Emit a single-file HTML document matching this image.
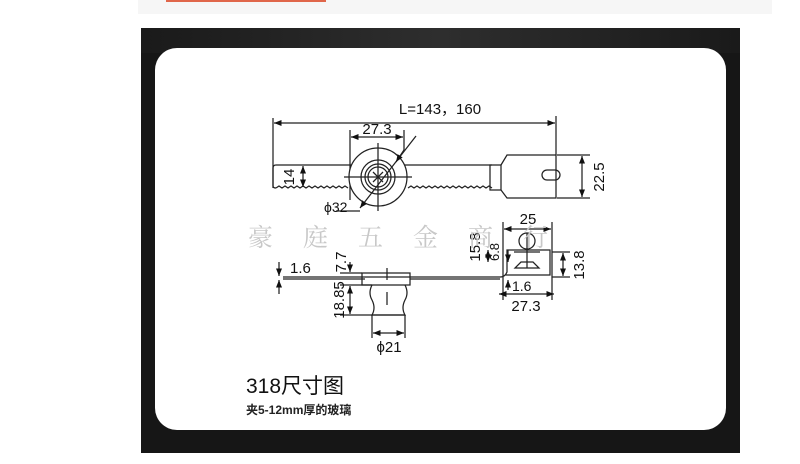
<!DOCTYPE html>
<html><head><meta charset="utf-8"><style>
html,body{margin:0;padding:0;background:#fff;width:800px;height:464px;overflow:hidden}
</style></head><body>
<svg width="800" height="464" viewBox="0 0 800 464" xmlns="http://www.w3.org/2000/svg" font-family="Liberation Sans, sans-serif">
<defs>
<marker id="a" viewBox="0 0 10 10" refX="10" refY="5" markerWidth="6" markerHeight="6" orient="auto-start-reverse"><path d="M0,1 L10,5 L0,9 z" fill="#111"/></marker>
<linearGradient id="g" x1="0" x2="1"><stop offset="0" stop-color="#1a1a1a"/><stop offset="0.5" stop-color="#2e2e2e"/><stop offset="1" stop-color="#1a1a1a"/></linearGradient>
</defs>
<rect x="138" y="0" width="634" height="14" fill="#f6f6f6"/>
<rect x="166" y="0" width="160" height="2" fill="#e0664a"/>
<rect x="141" y="28" width="599" height="425" fill="#161616"/>
<rect x="141" y="28" width="599" height="25" fill="url(#g)"/>
<rect x="155" y="48" width="571" height="382" rx="22" fill="#fff"/>
<g stroke="#222" stroke-width="1.25" fill="none">
<line x1="273" y1="118" x2="273" y2="188"/>
<line x1="556" y1="116" x2="556" y2="155"/>
<line x1="274" y1="123" x2="555" y2="123" marker-start="url(#a)" marker-end="url(#a)"/>
<line x1="350" y1="130" x2="350" y2="200"/>
<line x1="404" y1="130" x2="404" y2="150"/>
<line x1="351" y1="137" x2="403" y2="137" marker-start="url(#a)" marker-end="url(#a)"/>
<path d="M276,165 L492,165 M276,165 Q273,165 273,168 L273,186 Q273,188 276,188"/>
<path d="M276,188 l3,-2 l3,2 l3,-2 l3,2 l3,-2 l3,2 l3,-2 l3,2 l3,-2 l3,2 l3,-2 l3,2 l3,-2 l3,2 l3,-2 l3,2 l3,-2 l3,2 l3,-2 l3,2 l3,-2 l3,2 l3,-2 l3,2" />
<path d="M408,188 l3,-2 l3,2 l3,-2 l3,2 l3,-2 l3,2 l3,-2 l3,2 l3,-2 l3,2 l3,-2 l3,2 l3,-2 l3,2 l3,-2 l3,2 l3,-2 l3,2 l3,-2 l3,2 l3,-2 l3,2 l3,-2 l3,2 l3,-2 l3,2 l3,-2 l3,2"/>
<rect x="490" y="165" width="11" height="25"/>
<path d="M501,165 L507,155 L556,155 L556,198 L507,198 L501,190"/>
<rect x="542" y="170" width="18" height="10" rx="5"/>
<circle cx="378" cy="177" r="29" fill="#fff"/>
<circle cx="378" cy="177" r="17"/>
<circle cx="378" cy="177" r="13"/>
<circle cx="378" cy="177" r="10"/>
<line x1="344" y1="177" x2="412" y2="177"/>
<line x1="378" y1="143" x2="378" y2="211"/>
<line x1="373" y1="172" x2="383" y2="182"/><line x1="383" y1="172" x2="373" y2="182"/>
<line x1="360" y1="208" x2="416" y2="136" marker-start="url(#a)"/>
<line x1="404" y1="150" x2="396" y2="162" marker-end="url(#a)"/>
<line x1="336" y1="211" x2="360" y2="211"/>
<line x1="303" y1="166" x2="303" y2="187" marker-start="url(#a)" marker-end="url(#a)"/>
<line x1="557" y1="155" x2="590" y2="155"/><line x1="557" y1="198" x2="590" y2="198"/>
<line x1="582" y1="156" x2="582" y2="197" marker-start="url(#a)" marker-end="url(#a)"/>

<line x1="283" y1="277" x2="500" y2="277"/><line x1="283" y1="279" x2="365" y2="279"/>
<line x1="410" y1="279" x2="500" y2="279"/>
<path d="M500,277 Q505,277 507,272 L507,250 L550,250 L550,275 L505,275"/>
<line x1="279" y1="262" x2="279" y2="276" marker-end="url(#a)"/>
<line x1="279" y1="294" x2="279" y2="280" marker-end="url(#a)"/>
<rect x="362" y="273" width="48" height="12"/>
<path d="M372,285 q-4,8 0,15 q4,8 0,15 L405,315 q-4,-7 0,-15 q4,-7 0,-15"/>
<line x1="387" y1="268" x2="387" y2="280"/><line x1="387" y1="292" x2="387" y2="305"/>
<line x1="340" y1="273" x2="362" y2="273"/>
<line x1="340" y1="285" x2="372" y2="285"/><line x1="340" y1="315" x2="405" y2="315"/>
<line x1="350" y1="262" x2="350" y2="272" marker-end="url(#a)"/>
<line x1="350" y1="286" x2="350" y2="314" marker-start="url(#a)" marker-end="url(#a)"/>
<line x1="372" y1="315" x2="372" y2="338"/><line x1="405" y1="315" x2="405" y2="338"/>
<line x1="373" y1="333" x2="404" y2="333" marker-start="url(#a)" marker-end="url(#a)"/>
<line x1="503" y1="222" x2="503" y2="300"/><line x1="552" y1="222" x2="552" y2="300"/>
<line x1="504" y1="229" x2="551" y2="229" marker-start="url(#a)" marker-end="url(#a)"/>
<circle cx="527" cy="241" r="8"/>
<line x1="527" y1="233" x2="527" y2="268"/>
<path d="M515,268 L539,268 L533,262 L521,262 Z"/>
<line x1="514" y1="252" x2="540" y2="252"/>
<line x1="552" y1="252" x2="570" y2="252"/><line x1="552" y1="277" x2="570" y2="277"/>
<line x1="563" y1="253" x2="563" y2="276" marker-start="url(#a)" marker-end="url(#a)"/>
<line x1="488" y1="250" x2="488" y2="262" marker-start="url(#a)" marker-end="url(#a)"/>
<line x1="508" y1="250" x2="508" y2="262" marker-end="url(#a)"/>
<line x1="508" y1="290" x2="508" y2="280" marker-end="url(#a)"/>
<line x1="499" y1="294" x2="554" y2="294" marker-start="url(#a)" marker-end="url(#a)"/>
</g>
<g fill="#111" font-size="15">
<text x="440" y="114" text-anchor="middle">L=143，160</text>
<text x="377" y="134" text-anchor="middle">27.3</text>
<text x="324" y="212" font-size="14">ϕ32</text>
<text transform="translate(294,177) rotate(-90)" text-anchor="middle">14</text>
<text transform="translate(604,177) rotate(-90)" text-anchor="middle">22.5</text>
<text x="528" y="224" text-anchor="middle">25</text>
<text transform="translate(584,265) rotate(-90)" text-anchor="middle">13.8</text>
<text transform="translate(480,247) rotate(-90)" text-anchor="middle">15.8</text>
<text transform="translate(499,252) rotate(-90)" text-anchor="middle" font-size="13">6.8</text>
<text x="512" y="291" font-size="14">1.6</text>
<text x="526" y="311" text-anchor="middle">27.3</text>
<text x="290" y="273">1.6</text>
<text transform="translate(346,262) rotate(-90)" text-anchor="middle">7.7</text>
<text transform="translate(344,300) rotate(-90)" text-anchor="middle">18.85</text>
<text x="389" y="352" text-anchor="middle">ϕ21</text>
</g>
<text x="248" y="246" font-family="Liberation Serif, 'Noto Serif CJK SC', serif" font-size="25" fill="#c8c8c8" letter-spacing="30">豪庭五金商行</text>
<text x="246" y="393" font-family="Liberation Sans, 'Noto Sans CJK SC', sans-serif" font-size="21" fill="#111">318尺寸图</text>
<text x="246" y="414" font-family="Liberation Sans, 'Noto Sans CJK SC', sans-serif" font-size="12" font-weight="bold" fill="#222">夹5-12mm厚的玻璃</text>
</svg>
</body></html>
